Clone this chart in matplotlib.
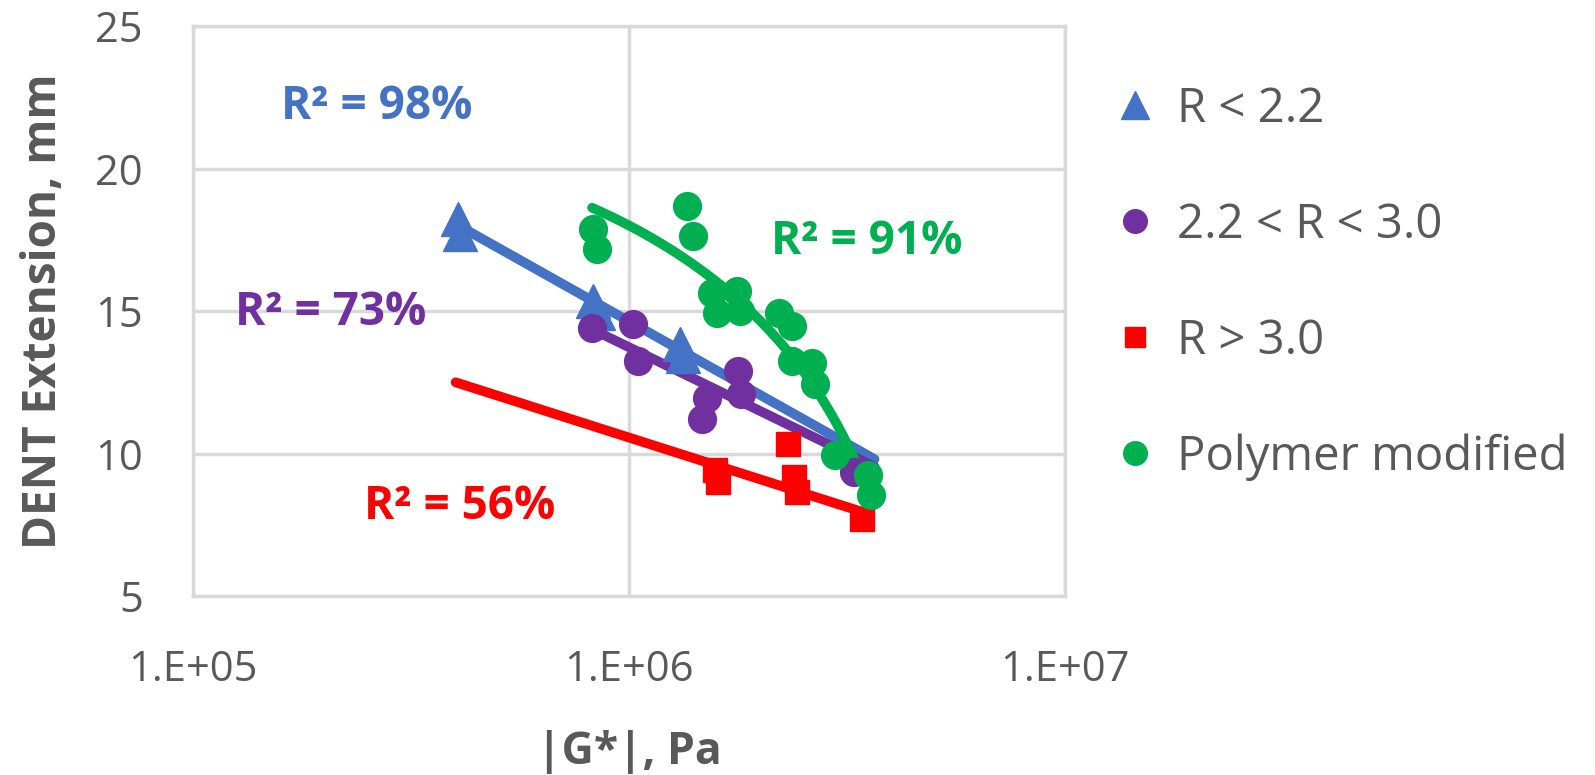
import numpy as np
import matplotlib.pyplot as plt

plt.rcParams['font.family'] = ['Open Sans', 'DejaVu Sans']

# |G*| in Pa, DENT extension in mm
G_low = [4.06e5, 4.10e5, 8.26e5, 8.47e5, 1.31e6, 1.33e6]
D_low = [18.24, 17.71, 15.35, 14.93, 13.84, 13.42]

G_mid = [8.2e5, 1.02e6, 1.05e6, 1.51e6, 1.47e6, 1.78e6, 1.80e6, 3.27e6]
D_mid = [14.40, 14.54, 13.24, 11.94, 11.23, 12.89, 12.08, 9.37]

G_high = [1.57e6, 1.60e6, 2.31e6, 2.39e6, 2.42e6, 3.41e6]
D_high = [9.44, 9.01, 10.32, 9.19, 8.66, 7.71]

G_pm = [8.26e5, 8.43e5, 1.36e6, 1.40e6, 1.55e6, 1.59e6, 1.77e6, 1.79e6,
        2.21e6, 2.36e6, 2.36e6, 2.63e6, 2.66e6, 2.96e6, 3.52e6, 3.59e6]
D_pm = [17.89, 17.18, 18.70, 17.64, 15.63, 14.93, 15.70, 15.00,
        14.93, 14.47, 13.24, 13.17, 12.46, 9.96, 9.26, 8.56]

# trendlines: log fits y = m*log10(G) + c, polymer modified is a cubic in G/1e6
trend_low = (-8.6, 66.24, 4.06e5, 3.65e6)
trend_mid = (-7.45, 58.43, 8.2e5, 3.65e6)
trend_high = (-4.88, 39.84, 4.0e5, 3.45e6)
trend_pm = ([-0.1303, 0.6353, -4.349, 21.848], 8.22e5, 3.63e6)

r2_text = ['R² = 98%', 'R² = 73%', 'R² = 56%', 'R² = 91%']
r2_pos = [(2.64e5, 22.2), (2.07e5, 14.95), (4.09e5, 8.15), (3.5e6, 17.45)]

c_low, c_mid, c_high, c_pm = '#4472C4', '#7030A0', '#FF0000', '#00B050'
grey = '#595959'

fig = plt.figure(figsize=(15.95, 7.75), dpi=100)
ax = fig.add_axes([0.121, 0.231, 0.547, 0.735])

for (m, c, x0, x1), col in zip([trend_low, trend_mid, trend_high], [c_low, c_mid, c_high]):
    xs = np.geomspace(x0, x1, 50)
    ax.plot(xs, m*np.log10(xs) + c, color=col, lw=7, solid_capstyle='round', zorder=3)
coef, x0, x1 = trend_pm
xs = np.geomspace(x0, x1, 100)
ax.plot(xs, np.polyval(coef, xs/1e6), color=c_pm, lw=7, solid_capstyle='round', zorder=3)

ax.plot(G_low, D_low, '^', color=c_low, ms=24, ls='none', label='R < 2.2', zorder=4)
ax.plot(G_mid, D_mid, 'o', color=c_mid, ms=20, ls='none', label='2.2 < R < 3.0', zorder=4)
ax.plot(G_high, D_high, 's', color=c_high, ms=17, ls='none', label='R > 3.0', zorder=4)
ax.plot(G_pm, D_pm, 'o', color=c_pm, ms=20, ls='none', label='Polymer modified', zorder=4)

for txt, (x, y), col in zip(r2_text, r2_pos, [c_low, c_mid, c_high, c_pm]):
    ax.text(x, y, txt, color=col, fontsize=33, fontweight='bold', ha='center', va='center')

ax.set_xscale('log')
ax.set_xlim(1e5, 1e7)
ax.set_ylim(5, 25)
ax.set_xticks([1e5, 1e6, 1e7])
ax.set_xticklabels(['1.E+05', '1.E+06', '1.E+07'])
ax.set_yticks([5, 10, 15, 20, 25])
ax.minorticks_off()
ax.tick_params(length=0, labelsize=30, colors=grey)
ax.tick_params(axis='y', pad=36)
ax.tick_params(axis='x', pad=38)
ax.grid(True, color='#d9d9d9', lw=2.5)
for s in ax.spines.values():
    s.set_color('#d9d9d9')
    s.set_linewidth(2.5)

ax.set_xlabel('|G*|, Pa', fontsize=32, fontweight='bold', color=grey, labelpad=28)
ax.set_ylabel('DENT Extension, mm', fontsize=33, fontweight='bold', color=grey, labelpad=20)

fig.legend(loc='upper left', bbox_to_anchor=(0.667, 0.945), frameon=False, fontsize=34,
           labelcolor=grey, handletextpad=0.3, labelspacing=1.45, markerscale=0.85,
           handlelength=1.2)

fig.savefig('out.png', dpi=100)
